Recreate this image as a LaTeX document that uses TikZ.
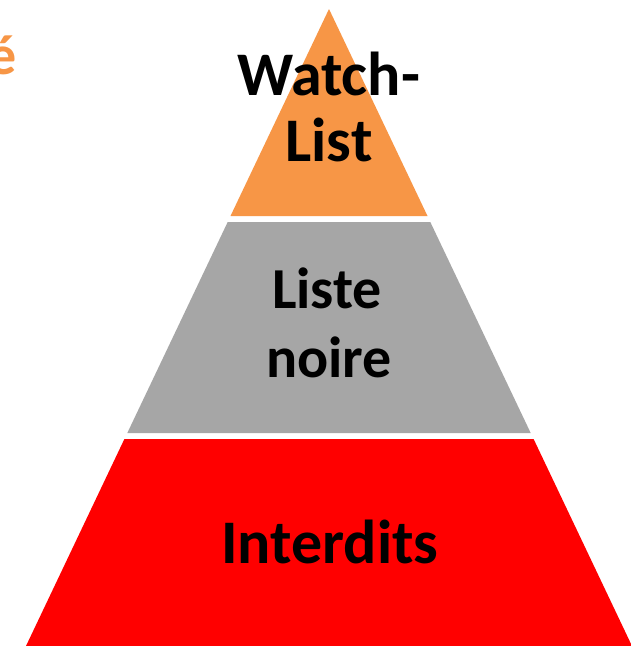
\documentclass[tikz,border=0pt]{standalone}
\usepackage{fontspec}
\setmainfont{Carlito}
\definecolor{orng}{HTML}{F79646}
\definecolor{gry}{HTML}{A6A6A6}
\definecolor{rd}{HTML}{FF0000}
\tikzset{
  lbl/.style={inner sep=0pt, anchor=base, font=\bfseries\fontsize{62}{62}\selectfont, text=black},
  lblsm/.style={inner sep=0pt, anchor=base, font=\bfseries\fontsize{58}{58}\selectfont, text=black},
  tier/.style={draw=none}
}
\begin{document}
\begin{tikzpicture}[x=1pt,y=-1pt]
\clip (0,0) rectangle (631,646);
\fill[white] (0,0) rectangle (631,646);
% tiers
\fill[orng,tier] (329,9) -- (427.5,216) -- (230.5,216) -- cycle;
\fill[gry,tier] (227.7,222) -- (430.3,222) -- (530.7,433) -- (127.3,433) -- cycle;
\fill[rd,tier] (124.4,439) -- (533.6,439) -- (632,646) -- (26,646) -- cycle;
% labels
\node[lbl] (watch) at (328.5,95) {Watch-};
\node[lbl] (list) at (329,161) {List};
\node[lblsm] (liste) at (327,308) {Liste};
\node[lblsm] (noire) at (329,377) {noire};
\node[lbl] (interdits) at (330,563) {Interdits};
\node[inner sep=0pt, anchor=base east, text=orng, font=\bfseries\fontsize{56}{56}\selectfont] (eacute) at (17,74) {é};
\end{tikzpicture}
\end{document}
